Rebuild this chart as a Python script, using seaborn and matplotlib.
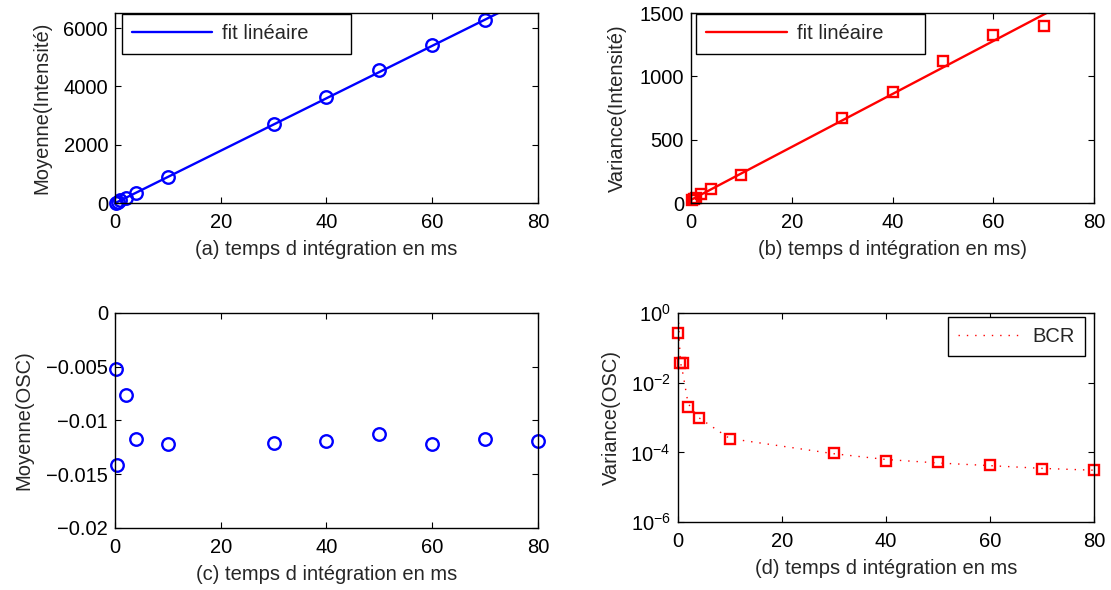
import matplotlib
matplotlib.use("Agg")
import numpy as np
import matplotlib.pyplot as plt
from matplotlib.ticker import FuncFormatter, NullLocator
import seaborn as sns

# temps d'integration (ms) et mesures
t_int = [0.1, 0.5, 1, 2, 4, 10, 30, 40, 50, 60, 70]
mean_int = [10, 45, 90, 175, 360, 892, 2724, 3636, 4552, 5434, 6295]
var_int = [20, 28, 40, 74, 108, 219, 669, 880, 1125, 1329, 1400]

# fits lineaires : (pente, ordonnee a l'origine)
mean_fit = (90.0, -5.0)
var_fit = (20.9, 25.0)
fit_t = [0, 80]

t_osc = [0.1, 0.3, 2, 4, 10, 30, 40, 50, 60, 70, 80]
mean_osc = [-0.0052, -0.0141, -0.0076, -0.0117, -0.0122, -0.0121,
            -0.0119, -0.0113, -0.0122, -0.0117, -0.0119]

t_var_osc = [0.1, 0.5, 1, 2, 4, 10, 30, 40, 50, 60, 70, 80]
var_osc = [0.26, 0.037, 0.037, 0.00195, 9.5e-4, 2.4e-4,
           9.4e-5, 5.8e-5, 5.4e-5, 4.3e-5, 3.3e-5, 3.1e-5]
bcr = [0.9, 0.04, 0.018, 0.0025, 1.0e-3, 2.5e-4,
       9.2e-5, 6.3e-5, 5.0e-5, 4.2e-5, 3.5e-5, 3.1e-5]

xlabels = ["(a) temps d intégration en ms",
           "(b) temps d intégration en ms)",
           "(c) temps d intégration en ms",
           "(d) temps d intégration en ms"]
ylabels = ["Moyenne(Intensité)", "Variance(Intensité)",
           "Moyenne(OSC)", "Variance(OSC)"]

FS = 14.5

sns.set_theme(style="ticks")
plt.rcParams["font.family"] = ["Liberation Sans", "DejaVu Sans"]
plt.rcParams["font.size"] = FS
plt.rcParams["axes.edgecolor"] = "black"
plt.rcParams["axes.linewidth"] = 1.0
plt.rcParams["xtick.color"] = "black"
plt.rcParams["ytick.color"] = "black"

fig = plt.figure(figsize=(11.11, 5.90), dpi=100)
ax_a = fig.add_axes([0.1035, 0.6559, 0.3807, 0.3220])
ax_b = fig.add_axes([0.6220, 0.6559, 0.3627, 0.3220])
ax_c = fig.add_axes([0.1035, 0.1051, 0.3807, 0.3644])
ax_d = fig.add_axes([0.6100, 0.1147, 0.3747, 0.3553])
axes = [ax_a, ax_b, ax_c, ax_d]

BLUE = (0, 0, 1)
RED = (1, 0, 0)

# (a) moyenne de l'intensite
fit_y = [mean_fit[0] * t + mean_fit[1] for t in fit_t]
sns.lineplot(x=fit_t, y=fit_y, ax=ax_a, color=BLUE, lw=1.7, label="fit linéaire")
sns.lineplot(x=t_int, y=mean_int, ax=ax_a, color=BLUE, linestyle="", marker="o",
             ms=9, mfc="none", mec=BLUE, mew=1.7, clip_on=False, label="_nolegend_")
ax_a.set_ylim(0, 6520)
ax_a.set_yticks([0, 2000, 4000, 6000])

# (b) variance de l'intensite
fit_y = [var_fit[0] * t + var_fit[1] for t in fit_t]
sns.lineplot(x=fit_t, y=fit_y, ax=ax_b, color=RED, lw=1.7, label="fit linéaire")
sns.lineplot(x=t_int, y=var_int, ax=ax_b, color=RED, linestyle="", marker="s",
             ms=7.5, mfc="none", mec=RED, mew=1.7, clip_on=False, label="_nolegend_")
ax_b.set_ylim(0, 1500)
ax_b.set_yticks([0, 500, 1000, 1500])

# (c) moyenne OSC
sns.lineplot(x=t_osc, y=mean_osc, ax=ax_c, color=BLUE, linestyle="", marker="o",
             ms=9, mfc="none", mec=BLUE, mew=1.7, clip_on=False)
ax_c.set_ylim(-0.02, 0)
ax_c.set_yticks([-0.02, -0.015, -0.01, -0.005, 0])
ax_c.yaxis.set_major_formatter(FuncFormatter(lambda v, p: ("%g" % v).replace("-", "\u2212")))

# (d) variance OSC + borne de Cramer-Rao
ax_d.set_yscale("log")
sns.lineplot(x=t_var_osc, y=bcr, ax=ax_d, color=RED, lw=1.0,
             linestyle=(0, (1, 5)), label="BCR")
sns.lineplot(x=t_var_osc, y=var_osc, ax=ax_d, color=RED, linestyle="", marker="s",
             ms=7.5, mfc="none", mec=RED, mew=1.7, clip_on=False, label="_nolegend_")
ax_d.set_ylim(1e-6, 1)
ax_d.set_yticks([1e-6, 1e-4, 1e-2, 1])
ax_d.yaxis.set_minor_locator(NullLocator())

for ax, xl, yl in zip(axes, xlabels, ylabels):
    ax.set_xlim(0, 80)
    ax.set_xticks([0, 20, 40, 60, 80])
    ax.set_xlabel(xl, fontsize=FS, labelpad=6)
    ax.set_ylabel(yl, fontsize=FS, labelpad=9)
    ax.tick_params(which="both", direction="in", top=True, right=True,
                   length=4, width=0.8, labelsize=FS)
    ax.tick_params(axis="x", pad=7)
    ax.tick_params(axis="y", pad=5)
    for s in ax.spines.values():
        s.set_visible(True)
        s.set_linewidth(1.0)
        s.set_color("black")
ax_d.set_ylabel(ylabels[3], fontsize=FS, labelpad=7)

leg_kw = dict(frameon=True, fancybox=False, edgecolor="black", framealpha=1,
              borderaxespad=0, borderpad=0.5, handlelength=4.0,
              handletextpad=0.5, fontsize=FS)
la = ax_a.legend(loc="upper left", bbox_to_anchor=(0.016, 0.79, 0.541, 0.203),
                 mode="expand", **leg_kw)
lb = ax_b.legend(loc="upper left", bbox_to_anchor=(0.0124, 0.79, 0.568, 0.203),
                 mode="expand", **leg_kw)
ld = ax_d.legend(loc="upper right", bbox_to_anchor=(0.978, 0.978),
                 **dict(leg_kw, handlelength=3.2))
for leg in (la, lb, ld):
    leg.get_frame().set_linewidth(1.0)

fig.savefig("out.png", dpi=100)
